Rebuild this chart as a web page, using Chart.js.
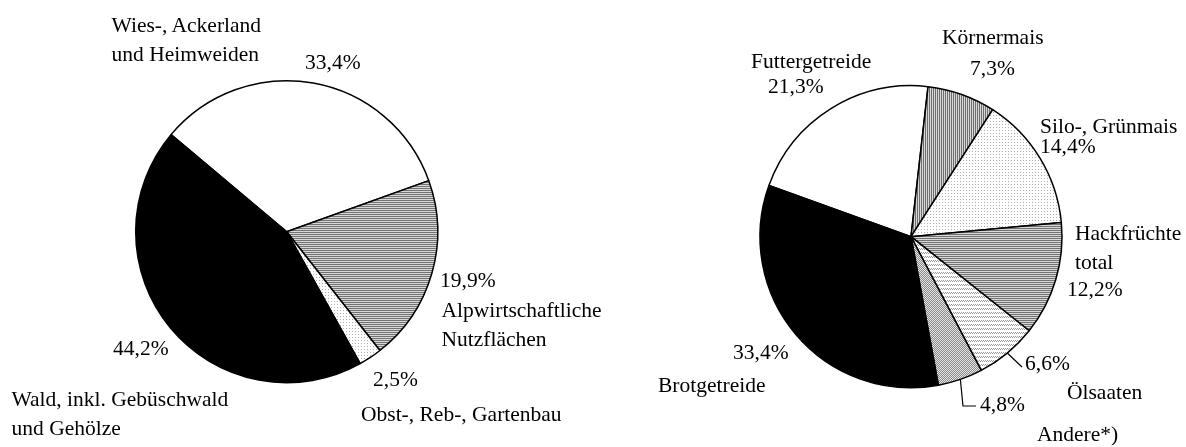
<!DOCTYPE html>
<html>
<head>
<meta charset="utf-8">
<script src="https://cdn.jsdelivr.net/npm/chart.js@4.4.0/dist/chart.umd.min.js"></script>
<style>
  html, body { margin: 0; padding: 0; background: #fff; }
  #wrap { position: relative; width: 1186px; height: 447px; overflow: hidden; }
  #wrap canvas { position: absolute; top: 0; }
  .lbl { position: absolute; font-family: "Liberation Serif", "Times New Roman", serif;
         font-size: 21.5px; line-height: 1; color: #000; white-space: nowrap; }
</style>
</head>
<body>
<div id="wrap">
  <canvas id="left" width="593" height="447" style="left:0"></canvas>
  <canvas id="right" width="593" height="447" style="left:593px"></canvas>
</div>
<script>
// data
const leftCategories = ['Wies-, Ackerland\nund Heimweiden', 'Alpwirtschaftliche\nNutzflächen', 'Obst-, Reb-, Gartenbau', 'Wald, inkl. Gebüschwald\nund Gehölze'];
const leftValues = [33.4, 19.9, 2.5, 44.2];

const rightCategories = ['Futtergetreide', 'Körnermais', 'Silo-, Grünmais', 'Hackfrüchte\ntotal', 'Ölsaaten', 'Andere*)', 'Brotgetreide'];
const rightValues = [21.3, 7.3, 14.4, 12.2, 6.6, 4.8, 33.4];

// label layout (page coords: left x, baseline y)
const leftNamePos = [[111.5, 33], [441.5, 318], [361, 422], [11.5, 407]];
const leftPctPos = [[305, 70], [440, 288], [373, 387], [113, 356]];
const rightNamePos = [[751, 69], [942, 45], [1040, 134], [1075, 241], [1067, 400], [1037, 442], [658, 393]];
const rightPctPos = [[768, 94], [970, 76], [1040, 154], [1067, 297], [1025, 371], [980, 412], [733, 360]];
const lineGap = 28.5;

const fmt = v => v.toFixed(1).replace('.', ',') + '%';

function pattern(w, h, bg, fg, pts) {
  const c = document.createElement('canvas');
  c.width = w; c.height = h;
  const g = c.getContext('2d');
  g.fillStyle = bg; g.fillRect(0, 0, w, h);
  g.fillStyle = fg;
  pts.forEach(p => g.fillRect(p[0], p[1], 1, 1));
  return g.createPattern(c, 'repeat');
}

const hStripe = pattern(1, 2, '#d8d8d8', '#727272', [[0, 0]]);
const vStripe = pattern(2, 1, '#d8d8d8', '#6e6e6e', [[0, 0]]);
const dots = pattern(3, 3, '#ffffff', '#b0b0b0', [[1, 1]]);
const waves = pattern(4, 4, '#ffffff', '#999999', [[0, 0], [1, 1], [2, 0], [3, 1]]);
const checks = pattern(2, 2, '#e6e6e6', '#888888', [[0, 0], [1, 1]]);

function addText(text, x, baseline) {
  const d = document.createElement('div');
  d.className = 'lbl';
  d.textContent = text;
  d.style.left = x + 'px';
  d.style.top = (baseline - 18) + 'px';
  document.getElementById('wrap').appendChild(d);
}

function addLabels(cats, vals, namePos, pctPos) {
  cats.forEach((c, i) => {
    c.split('\n').forEach((line, k) => addText(line, namePos[i][0], namePos[i][1] + k * lineGap));
    addText(fmt(vals[i]), pctPos[i][0], pctPos[i][1]);
  });
}

// leader lines for the small slices on the right pie
const leaderIdx = [4, 5];
const leaderPts = [[[1022, 367]], [[963, 406], [976, 406]]];
const leaders = {
  id: 'leaders',
  afterDatasetsDraw(chart) {
    const ctx = chart.ctx;
    const arcs = chart.getDatasetMeta(0).data;
    ctx.save();
    ctx.strokeStyle = '#000';
    ctx.lineWidth = 1.2;
    leaderIdx.forEach((i, k) => {
      const a = arcs[i];
      const mid = (a.startAngle + a.endAngle) / 2;
      ctx.beginPath();
      ctx.moveTo(a.x + Math.cos(mid) * a.outerRadius, a.y + Math.sin(mid) * a.outerRadius);
      leaderPts[k].forEach(p => ctx.lineTo(p[0] - 593, p[1]));
      ctx.stroke();
    });
    ctx.restore();
  }
};

function pie(id, cats, vals, colors, rotation, pad, plugins) {
  return new Chart(document.getElementById(id).getContext('2d'), {
    type: 'pie',
    data: {
      labels: cats,
      datasets: [{
        data: vals,
        backgroundColor: colors,
        borderColor: '#000',
        borderWidth: 1.5
      }]
    },
    options: {
      responsive: false,
      animation: false,
      events: [],
      rotation: rotation,
      radius: 151,
      layout: { padding: pad },
      plugins: { legend: { display: false }, tooltip: { enabled: false } }
    },
    plugins: plugins || []
  });
}

// centre left pie at (286.7, 231.7), right pie at (911, 236.7)
pie('left', leftCategories, leftValues, ['#ffffff', hStripe, dots, '#000000'], -50,
  { left: 126.7, right: 146.3, top: 71.7, bottom: 55.3 });
pie('right', rightCategories, rightValues, ['#ffffff', vStripe, dots, hStripe, waves, checks, '#000000'], -70.2,
  { left: 158, right: 115, top: 76.7, bottom: 50.3 }, [leaders]);

addLabels(leftCategories, leftValues, leftNamePos, leftPctPos);
addLabels(rightCategories, rightValues, rightNamePos, rightPctPos);
</script>
</body>
</html>
